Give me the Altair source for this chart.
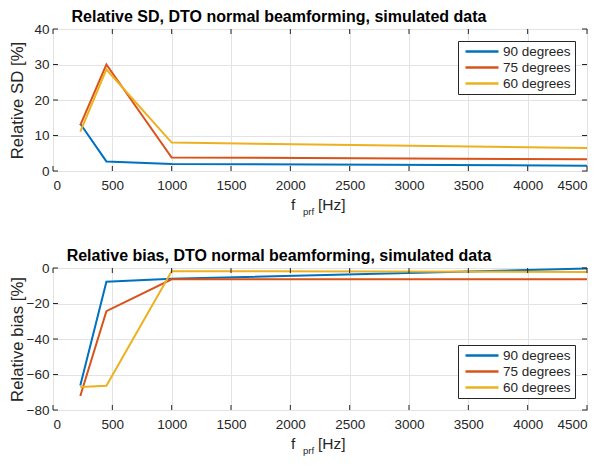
import altair as alt
import pandas as pd

freq = [230, 450, 1000, 4500]
series = ["90 degrees", "75 degrees", "60 degrees"]
colors = ["#0072BD", "#D95319", "#EDB120"]

sd_90 = [13.3, 2.7, 2.0, 1.5]
sd_75 = [12.9, 30.0, 3.8, 3.3]
sd_60 = [11.1, 28.6, 8.0, 6.5]

bias_90 = [-66.2, -7.7, -6.1, -0.3]
bias_75 = [-72.1, -24.3, -6.4, -6.4]
bias_60 = [-67.1, -66.4, -1.8, -2.2]

x_ticks = [0, 500, 1000, 1500, 2000, 2500, 3000, 3500, 4000, 4500]
sd_ticks = [0, 10, 20, 30, 40]
bias_ticks = [-80, -60, -40, -20, 0]
x_title_parts = ["f", "prf", "[Hz]"]

W, H = 534, 142
FONT = "Liberation Sans"
INK = "#262626"


def long_df(vals):
    rows = []
    for s, v in zip(series, vals):
        for i, (f, y) in enumerate(zip(freq, v)):
            rows.append({"f": f, "y": y, "s": s, "o": i})
    return pd.DataFrame(rows)


def panel(vals, yticks, ydomain, ytitle, title, legend_orient):
    df = long_df(vals)
    xs = alt.Scale(domain=[0, 4500], nice=False, zero=False)
    ys = alt.Scale(domain=ydomain, nice=False, zero=False)
    xax = alt.Axis(values=x_ticks, ticks=False, format="d", labelPadding=7,
                   labelFlush=True, labelOverlap=False, title=None, grid=True)
    yax = alt.Axis(values=yticks, ticks=False, format="d", labelPadding=4,
                   labelFlush=False, labelOverlap=False,
                   title=ytitle, titleX=-27, titleY=H / 2, titleAngle=-90,
                   titleBaseline="bottom", titleAlign="center", grid=True)
    lines = alt.Chart(df).mark_line(strokeWidth=2).encode(
        x=alt.X("f:Q", scale=xs, axis=xax),
        y=alt.Y("y:Q", scale=ys, axis=yax),
        color=alt.Color("s:N", scale=alt.Scale(domain=series, range=colors),
                        sort=series,
                        legend=alt.Legend(orient=legend_orient, offset=12, title=None,
                                          symbolType="stroke", symbolSize=1089,
                                          symbolStrokeWidth=2.5, rowPadding=2,
                                          clipHeight=13, symbolOffset=2,
                                          labelFontSize=13.5, labelFont=FONT,
                                          labelColor=INK, labelOffset=3,
                                          strokeColor=INK, fillColor="white",
                                          padding=4)),
        order="o:Q",
    )
    xt = pd.DataFrame({"v": x_ticks})
    yt = pd.DataFrame({"v": yticks})
    tick_b = alt.Chart(xt).mark_rule(color=INK, strokeWidth=1).encode(
        x=alt.X("v:Q", scale=xs, axis=xax), y=alt.value(H), y2=alt.value(H - 5))
    tick_t = alt.Chart(xt).mark_rule(color=INK, strokeWidth=1).encode(
        x=alt.X("v:Q", scale=xs, axis=xax), y=alt.value(0), y2=alt.value(5))
    tick_l = alt.Chart(yt).mark_rule(color=INK, strokeWidth=1).encode(
        y=alt.Y("v:Q", scale=ys, axis=yax), x=alt.value(0), x2=alt.value(5))
    tick_r = alt.Chart(yt).mark_rule(color=INK, strokeWidth=1).encode(
        y=alt.Y("v:Q", scale=ys, axis=yax), x=alt.value(W), x2=alt.value(W - 5))
    lab = pd.DataFrame({"t": x_title_parts})
    xt_f = alt.Chart(lab.iloc[[0]]).mark_text(font=FONT, fontSize=15.5, color=INK, align="left",
                                              baseline="alphabetic").encode(
        text="t:N", x=alt.value(238), y=alt.value(H + 39))
    xt_p = alt.Chart(lab.iloc[[1]]).mark_text(font=FONT, fontSize=9.5, color=INK, align="left",
                                              baseline="alphabetic").encode(
        text="t:N", x=alt.value(250), y=alt.value(H + 44))
    xt_h = alt.Chart(lab.iloc[[2]]).mark_text(font=FONT, fontSize=15.5, color=INK, align="left",
                                              baseline="alphabetic").encode(
        text="t:N", x=alt.value(265), y=alt.value(H + 39))
    return alt.layer(lines, tick_b, tick_t, tick_l, tick_r, xt_f, xt_p, xt_h).properties(
        width=W, height=H,
        title=alt.TitleParams(title, anchor="middle", frame="group", dx=-41, fontSize=16,
                              font=FONT, fontWeight="bold", color="black", offset=-3),
    )


top = panel([sd_90, sd_75, sd_60], sd_ticks, [0, 40], "Relative SD [%]",
            "Relative SD, DTO normal beamforming, simulated data", "top-right")
bot = panel([bias_90, bias_75, bias_60], bias_ticks, [-80, 0], "Relative bias [%]",
            "Relative bias, DTO normal beamforming, simulated data", "bottom-right")

chart = alt.vconcat(top, bot, spacing=30).properties(
    padding={"left": 0, "top": 0, "right": 0, "bottom": 0},
    background="white",
).configure_view(stroke=INK, strokeWidth=1).configure_axis(
    labelFont=FONT, labelFontSize=13.5, labelColor=INK, domain=False,
    gridColor="#e3e3e3", gridWidth=1, titleFont=FONT, titleFontSize=16.8,
    titleFontWeight="normal", titleColor=INK,
)

chart.save("out.html", embed_options={"renderer": "svg", "actions": False})
